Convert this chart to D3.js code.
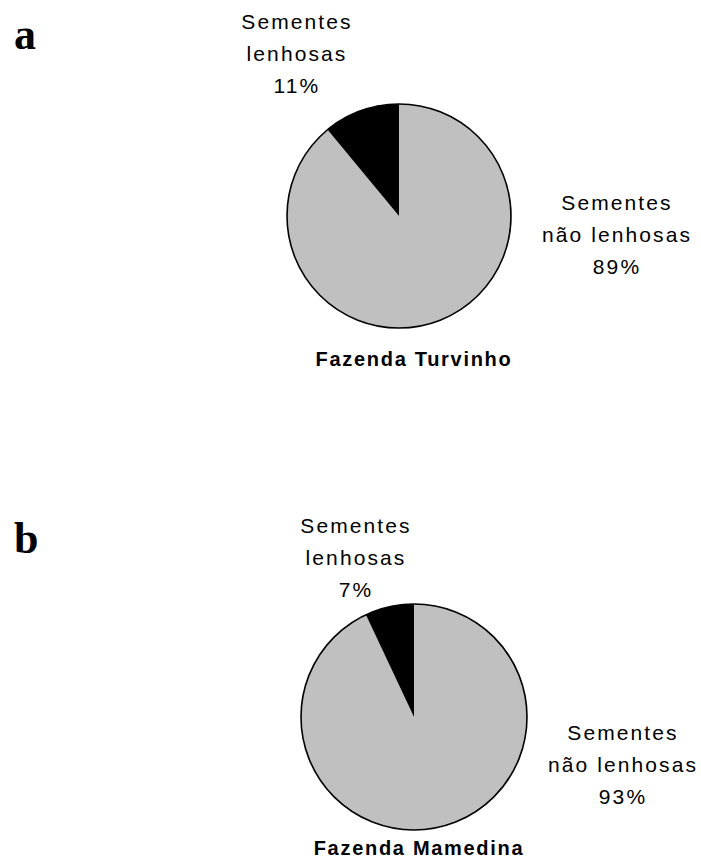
<!doctype html>
<html>
<head>
<meta charset="utf-8">
<script src="https://cdn.jsdelivr.net/npm/d3@7"></script>
<style>
    body { margin: 0; background: #fff; }
    .lbl { font-family: "Liberation Sans", Arial, sans-serif; font-size: 21px; letter-spacing: 2.1px; fill: #000; }
    .ttl { font-family: "Liberation Sans", Arial, sans-serif; font-size: 20px; font-weight: bold; letter-spacing: 1.7px; fill: #000; }
    .tag { font-family: "Liberation Serif", "Times New Roman", serif; font-size: 44px; font-weight: bold; fill: #000; }
</style>
</head>
<body>
<svg id="chart"></svg>
<script>

    // data
    var farms = ["Fazenda Turvinho", "Fazenda Mamedina"];
    var panelTags = ["a", "b"];
    var categories = ["Sementes não lenhosas", "Sementes lenhosas"];
    var nonWoody = [89, 93];
    var woody = [11, 7];

    var width = 701, height = 861;

    var svg = d3.select("#chart")
        .attr("width", width)
        .attr("height", height);

    // layout of each panel
    var panels = [
        { cx: 399, cy: 216, r: 112, tagY: 49, topX: 297, topY: 29, rightX: 617, rightY: 210, titleX: 414, titleY: 366 },
        { cx: 414, cy: 717, r: 113, tagY: 553, topX: 356, topY: 533, rightX: 623, rightY: 740, titleX: 419, titleY: 855 }
    ];

    var color = d3.scaleOrdinal()
        .domain(categories)
        .range(["#c0c0c0", "#000000"]);

    var pie = d3.pie()
        .sort(null)
        .value(function (d) { return d.value; });

    farms.forEach(function (farm, i) {
        var p = panels[i];
        var data = [
            { name: categories[0], value: nonWoody[i] },
            { name: categories[1], value: woody[i] }
        ];

        var arc = d3.arc().innerRadius(0).outerRadius(p.r);

        var g = svg.append("g")
            .attr("transform", "translate(" + p.cx + "," + p.cy + ")");

        g.selectAll("path.slice")
            .data(pie(data))
            .enter().append("path")
            .attr("class", "slice")
            .attr("d", arc)
            .style("fill", function (d) { return color(d.data.name); })
            .style("stroke", "none");

        g.append("circle")
            .attr("r", p.r)
            .style("fill", "none")
            .style("stroke", "#000")
            .style("stroke-width", 1.6);

        // panel letter
        svg.append("text")
            .attr("class", "tag")
            .attr("x", 14)
            .attr("y", p.tagY)
            .text(panelTags[i]);

        // label for woody seeds
        var t1 = svg.append("text")
            .attr("class", "lbl")
            .attr("text-anchor", "middle");
        ["Sementes", "lenhosas", woody[i] + "%"].forEach(function (s, k) {
            t1.append("tspan").attr("x", p.topX).attr("y", p.topY + k * 32).text(s);
        });

        // label for non woody seeds
        var t2 = svg.append("text")
            .attr("class", "lbl")
            .attr("text-anchor", "middle");
        ["Sementes", "não lenhosas", nonWoody[i] + "%"].forEach(function (s, k) {
            t2.append("tspan").attr("x", p.rightX).attr("y", p.rightY + k * 32).text(s);
        });

        svg.append("text")
            .attr("class", "ttl")
            .attr("text-anchor", "middle")
            .attr("x", p.titleX)
            .attr("y", p.titleY)
            .text(farm);
    });

</script>
</body>
</html>
